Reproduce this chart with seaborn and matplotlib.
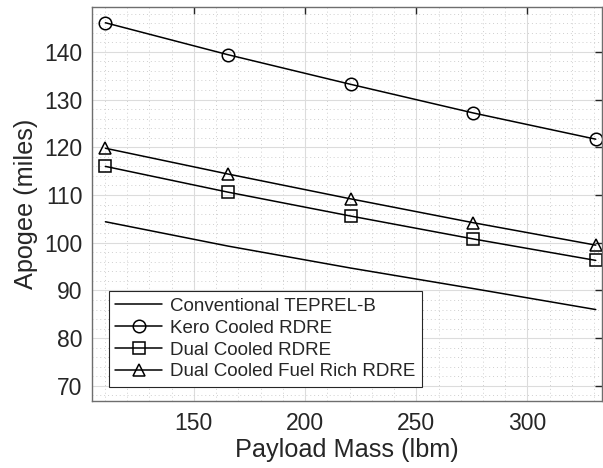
import matplotlib
matplotlib.use("Agg")
import matplotlib.pyplot as plt
import seaborn as sns
import numpy as np
from matplotlib.ticker import MultipleLocator

payload_lbm = [110.23, 165.35, 220.46, 275.58, 330.69]
conventional = [104.4, 99.3, 94.7, 90.4, 86.0]
kero_cooled = [146.1, 139.4, 133.2, 127.2, 121.7]
dual_cooled = [116.0, 110.6, 105.6, 100.8, 96.3]
dual_fuel_rich = [119.8, 114.4, 109.2, 104.2, 99.5]

series_names = ["Conventional TEPREL-B", "Kero Cooled RDRE",
                "Dual Cooled RDRE", "Dual Cooled Fuel Rich RDRE"]
series_values = [conventional, kero_cooled, dual_cooled, dual_fuel_rich]
series_markers = [None, "o", "s", "^"]

x_ticks = [150, 200, 250, 300]
y_ticks = [70, 80, 90, 100, 110, 120, 130, 140]

sns.set_style("white")
plt.rcParams["font.family"] = ["Liberation Sans", "DejaVu Sans"]

fig = plt.figure(figsize=(6.03, 4.68), dpi=100)
W, H = 603, 468
left, right, top, bottom = 92, 602, 7, 400.7
ax = fig.add_axes([left / W, 1 - bottom / H, (right - left) / W, (bottom - top) / H])

for name, vals, mk in zip(series_names, series_values, series_markers):
    kw = dict(color="black", linewidth=1.1)
    if mk is not None:
        kw.update(marker=mk, markersize=9, markerfacecolor="none",
                  markeredgecolor="black", markeredgewidth=1.1)
    sns.lineplot(x=payload_lbm, y=vals, ax=ax, label=name, **kw)

ax.set_xlim(104.2, 333.5)
ax.set_ylim(66.9, 149.4)
ax.set_xticks(x_ticks)
ax.set_yticks(y_ticks)
ax.xaxis.set_minor_locator(MultipleLocator(10))
ax.yaxis.set_minor_locator(MultipleLocator(2))

ax.grid(True, which="major", color="#dcdcdc", linewidth=0.8, linestyle="-")
ax.grid(True, which="minor", color="#cfcfcf", linewidth=0.7, linestyle=(0, (1, 3)))
ax.set_axisbelow(True)

for s in ax.spines.values():
    s.set_visible(True)
    s.set_color("#6e6e6e")
    s.set_linewidth(1.0)

ax.tick_params(axis="both", which="major", direction="in", length=5, width=1.0,
               color="#262626", labelsize=16.5, labelcolor="#262626",
               top=True, right=True)
ax.tick_params(axis="x", which="major", pad=8)
ax.tick_params(axis="y", which="major", pad=7)
ax.tick_params(axis="both", which="minor", length=0, top=True, right=True)

ax.set_xlabel("Payload Mass (lbm)", fontsize=18.2, color="#262626", labelpad=2)
ax.set_ylabel("Apogee (miles)", fontsize=18.2, color="#262626", labelpad=4)

leg = ax.legend(loc="lower left", bbox_to_anchor=(0.033, 0.035), fontsize=13.5,
                frameon=True, fancybox=False, framealpha=1, edgecolor="#262626",
                borderaxespad=0, handlelength=2.5, handletextpad=0.4,
                labelspacing=0.25, borderpad=0.35)
leg.get_frame().set_linewidth(0.8)

fig.savefig("out.png", dpi=100)
